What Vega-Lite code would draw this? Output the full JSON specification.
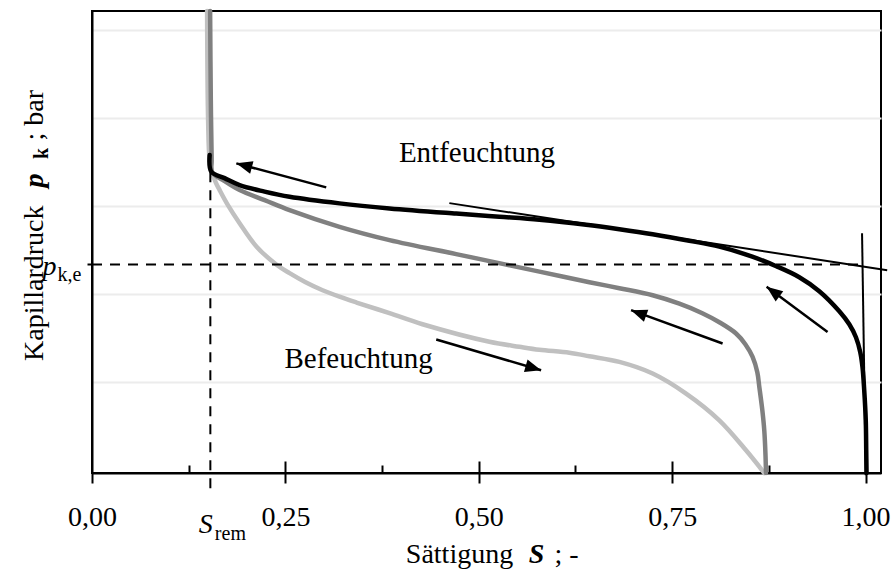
{
  "$schema": "https://vega.github.io/schema/vega-lite/v6.json",
  "width": 789,
  "height": 462,
  "autosize": "none",
  "padding": {"left": 92, "top": 11, "right": 15, "bottom": 99},
  "background": "white",
  "config": {
    "view": {"stroke": "#000000", "strokeWidth": 2},
    "font": "Liberation Serif",
    "axis": {
      "labelFont": "Liberation Serif",
      "titleFont": "Liberation Serif",
      "labelColor": "#000000",
      "titleColor": "#000000",
      "tickColor": "#000000",
      "domainColor": "#000000",
      "labelFlush": false,
      "labelOverlap": false,
      "grid": false,
      "titleFontWeight": "normal",
      "labelFontSize": 28,
      "titleFontSize": 28,
      "tickWidth": 2,
      "domainWidth": 2,
      "titlePadding": 0
    }
  },
  "datasets": {
    "curves": [
      {"kurve": "Befeuchtung", "s": 0.1488, "p": 5.217},
      {"kurve": "Befeuchtung", "s": 0.1501, "p": 3.977},
      {"kurve": "Befeuchtung", "s": 0.1521, "p": 3.522},
      {"kurve": "Befeuchtung", "s": 0.1553, "p": 3.386},
      {"kurve": "Befeuchtung", "s": 0.1598, "p": 3.272},
      {"kurve": "Befeuchtung", "s": 0.1650, "p": 3.181},
      {"kurve": "Befeuchtung", "s": 0.1753, "p": 3.016},
      {"kurve": "Befeuchtung", "s": 0.1908, "p": 2.805},
      {"kurve": "Befeuchtung", "s": 0.2128, "p": 2.538},
      {"kurve": "Befeuchtung", "s": 0.2386, "p": 2.333},
      {"kurve": "Befeuchtung", "s": 0.2554, "p": 2.237},
      {"kurve": "Befeuchtung", "s": 0.2761, "p": 2.134},
      {"kurve": "Befeuchtung", "s": 0.2981, "p": 2.043},
      {"kurve": "Befeuchtung", "s": 0.3200, "p": 1.969},
      {"kurve": "Befeuchtung", "s": 0.3420, "p": 1.903},
      {"kurve": "Befeuchtung", "s": 0.3846, "p": 1.782},
      {"kurve": "Befeuchtung", "s": 0.4273, "p": 1.656},
      {"kurve": "Befeuchtung", "s": 0.5138, "p": 1.457},
      {"kurve": "Befeuchtung", "s": 0.5526, "p": 1.400},
      {"kurve": "Befeuchtung", "s": 0.5784, "p": 1.366},
      {"kurve": "Befeuchtung", "s": 0.6171, "p": 1.332},
      {"kurve": "Befeuchtung", "s": 0.6430, "p": 1.292},
      {"kurve": "Befeuchtung", "s": 0.6818, "p": 1.228},
      {"kurve": "Befeuchtung", "s": 0.7248, "p": 1.096},
      {"kurve": "Befeuchtung", "s": 0.7680, "p": 0.868},
      {"kurve": "Befeuchtung", "s": 0.8110, "p": 0.564},
      {"kurve": "Befeuchtung", "s": 0.8455, "p": 0.223},
      {"kurve": "Befeuchtung", "s": 0.8691, "p": -0.035},

      {"kurve": "Entfeuchtung (Scanning)", "s": 0.1527, "p": 5.217},
      {"kurve": "Entfeuchtung (Scanning)", "s": 0.1536, "p": 4.204},
      {"kurve": "Entfeuchtung (Scanning)", "s": 0.1547, "p": 3.522},
      {"kurve": "Entfeuchtung (Scanning)", "s": 0.1553, "p": 3.386},
      {"kurve": "Entfeuchtung (Scanning)", "s": 0.1714, "p": 3.283},
      {"kurve": "Entfeuchtung (Scanning)", "s": 0.1908, "p": 3.181},
      {"kurve": "Entfeuchtung (Scanning)", "s": 0.2231, "p": 3.067},
      {"kurve": "Entfeuchtung (Scanning)", "s": 0.2554, "p": 2.953},
      {"kurve": "Entfeuchtung (Scanning)", "s": 0.3200, "p": 2.763},
      {"kurve": "Entfeuchtung (Scanning)", "s": 0.3846, "p": 2.612},
      {"kurve": "Entfeuchtung (Scanning)", "s": 0.4708, "p": 2.453},
      {"kurve": "Entfeuchtung (Scanning)", "s": 0.5354, "p": 2.334},
      {"kurve": "Entfeuchtung (Scanning)", "s": 0.5784, "p": 2.254},
      {"kurve": "Entfeuchtung (Scanning)", "s": 0.6430, "p": 2.134},
      {"kurve": "Entfeuchtung (Scanning)", "s": 0.6818, "p": 2.066},
      {"kurve": "Entfeuchtung (Scanning)", "s": 0.7248, "p": 1.986},
      {"kurve": "Entfeuchtung (Scanning)", "s": 0.7593, "p": 1.890},
      {"kurve": "Entfeuchtung (Scanning)", "s": 0.7890, "p": 1.782},
      {"kurve": "Entfeuchtung (Scanning)", "s": 0.8110, "p": 1.679},
      {"kurve": "Entfeuchtung (Scanning)", "s": 0.8326, "p": 1.551},
      {"kurve": "Entfeuchtung (Scanning)", "s": 0.8446, "p": 1.429},
      {"kurve": "Entfeuchtung (Scanning)", "s": 0.8540, "p": 1.284},
      {"kurve": "Entfeuchtung (Scanning)", "s": 0.8601, "p": 1.110},
      {"kurve": "Entfeuchtung (Scanning)", "s": 0.8627, "p": 0.943},
      {"kurve": "Entfeuchtung (Scanning)", "s": 0.8666, "p": 0.678},
      {"kurve": "Entfeuchtung (Scanning)", "s": 0.8691, "p": 0.450},
      {"kurve": "Entfeuchtung (Scanning)", "s": 0.8707, "p": 0.166},
      {"kurve": "Entfeuchtung (Scanning)", "s": 0.8713, "p": -0.035},

      {"kurve": "Entfeuchtung (primär)", "s": 0.1521, "p": 3.579},
      {"kurve": "Entfeuchtung (primär)", "s": 0.1543, "p": 3.389},
      {"kurve": "Entfeuchtung (primär)", "s": 0.1714, "p": 3.317},
      {"kurve": "Entfeuchtung (primär)", "s": 0.1908, "p": 3.238},
      {"kurve": "Entfeuchtung (primär)", "s": 0.2231, "p": 3.164},
      {"kurve": "Entfeuchtung (primär)", "s": 0.2554, "p": 3.105},
      {"kurve": "Entfeuchtung (primär)", "s": 0.3200, "p": 3.030},
      {"kurve": "Entfeuchtung (primär)", "s": 0.3846, "p": 2.973},
      {"kurve": "Entfeuchtung (primär)", "s": 0.4708, "p": 2.914},
      {"kurve": "Entfeuchtung (primär)", "s": 0.5267, "p": 2.879},
      {"kurve": "Entfeuchtung (primär)", "s": 0.5784, "p": 2.845},
      {"kurve": "Entfeuchtung (primär)", "s": 0.6388, "p": 2.788},
      {"kurve": "Entfeuchtung (primär)", "s": 0.6818, "p": 2.737},
      {"kurve": "Entfeuchtung (primär)", "s": 0.7248, "p": 2.680},
      {"kurve": "Entfeuchtung (primär)", "s": 0.7722, "p": 2.606},
      {"kurve": "Entfeuchtung (primär)", "s": 0.8110, "p": 2.538},
      {"kurve": "Entfeuchtung (primär)", "s": 0.8536, "p": 2.424},
      {"kurve": "Entfeuchtung (primär)", "s": 0.8846, "p": 2.316},
      {"kurve": "Entfeuchtung (primär)", "s": 0.9144, "p": 2.191},
      {"kurve": "Entfeuchtung (primär)", "s": 0.9402, "p": 2.032},
      {"kurve": "Entfeuchtung (primär)", "s": 0.9661, "p": 1.804},
      {"kurve": "Entfeuchtung (primär)", "s": 0.9790, "p": 1.656},
      {"kurve": "Entfeuchtung (primär)", "s": 0.9876, "p": 1.508},
      {"kurve": "Entfeuchtung (primär)", "s": 0.9932, "p": 1.338},
      {"kurve": "Entfeuchtung (primär)", "s": 0.9961, "p": 1.167},
      {"kurve": "Entfeuchtung (primär)", "s": 0.9983, "p": 0.906},
      {"kurve": "Entfeuchtung (primär)", "s": 1.0003, "p": 0.565},
      {"kurve": "Entfeuchtung (primär)", "s": 1.0009, "p": 0.223},
      {"kurve": "Entfeuchtung (primär)", "s": 1.0013, "p": -0.035}
    ],
    "refs": [
      {"linie": "p_k,e", "s0": 0.0, "p0": 2.336, "s1": 0.995, "p1": 2.336},
      {"linie": "S_rem", "s0": 0.153, "p0": 3.385, "s1": 0.153, "p1": -0.23}
    ],
    "lines": [
      {"linie": "Tangente", "s0": 0.462, "p0": 3.033, "s1": 1.028, "p1": 2.271},
      {"linie": "Senkrechte", "s0": 0.9955, "p0": 2.69, "s1": 1.0003, "p1": -0.06}
    ],
    "arrows": [
      {"pfeil": "Entfeuchtung links", "s0": 0.3028, "p0": 3.212, "s1": 0.1866, "p1": 3.485},
      {"pfeil": "Scanning", "s0": 0.8152, "p0": 1.437, "s1": 0.6969, "p1": 1.816},
      {"pfeil": "Entfeuchtung rechts", "s0": 0.9509, "p0": 1.569, "s1": 0.8721, "p1": 2.081},
      {"pfeil": "Befeuchtung", "s0": 0.4450, "p0": 1.482, "s1": 0.5806, "p1": 1.133}
    ],
    "labels": [
      {"text": "Entfeuchtung", "s": 0.4977, "p": 3.499},
      {"text": "Befeuchtung", "s": 0.3446, "p": 1.156}
    ]
  },
  "layer": [
    {
      "data": {"name": "curves"},
      "mark": {"type": "line", "interpolate": "catmull-rom", "strokeCap": "round", "strokeJoin": "round"},
      "encoding": {
        "x": {
          "field": "s", "type": "quantitative",
          "scale": {"domain": [0, 1.02], "nice": false, "zero": false},
          "axis": {
            "orient": "bottom",
            "values": [0, 0.25, 0.5, 0.75, 1],
            "labelExpr": "replace(format(datum.value, '.2f'), '.', ',')",
            "tickSize": 10,
            "labelBaseline": "alphabetic",
            "labelPadding": 42,
            "domain": true,
            "title": "Sättigung",
            "titleX": 367, "titleY": 89,
            "titleAlign": "center", "titleBaseline": "alphabetic"
          }
        },
        "y": {
          "field": "p", "type": "quantitative",
          "scale": {"domain": [-0.035, 5.217], "nice": false, "zero": false},
          "axis": {
            "orient": "left",
            "values": [1, 2, 3, 4, 5],
            "grid": true, "gridColor": "#ececec", "gridWidth": 2,
            "ticks": false, "labels": false, "domain": true,
            "title": "Kapillardruck",
            "titleAngle": 270, "titleX": -50, "titleY": 194,
            "titleAlign": "right", "titleBaseline": "alphabetic"
          }
        },
        "color": {
          "field": "kurve", "type": "nominal",
          "scale": {"domain": ["Befeuchtung", "Entfeuchtung (Scanning)", "Entfeuchtung (primär)"], "range": ["#c0c0c0", "#808080", "#000000"]},
          "legend": null
        },
        "strokeWidth": {
          "field": "kurve", "type": "nominal",
          "scale": {"domain": ["Befeuchtung", "Entfeuchtung (Scanning)", "Entfeuchtung (primär)"], "range": [4.5, 4.5, 5]},
          "legend": null
        }
      }
    },
    {
      "data": {"name": "refs"},
      "mark": {"type": "rule", "strokeDash": [10, 8], "strokeWidth": 2, "color": "#000000"},
      "encoding": {
        "x": {
          "field": "s0", "type": "quantitative",
          "scale": {"domain": [0, 1.02], "nice": false, "zero": false},
          "axis": {
            "orient": "bottom",
            "values": [0.25, 0.5, 0.75, 1],
            "tickSize": -12, "labels": false, "domain": false,
            "title": "S", "titleFontStyle": "italic", "titleFontWeight": "bold",
            "titleX": 444, "titleY": 89,
            "titleAlign": "center", "titleBaseline": "alphabetic"
          }
        },
        "x2": {"field": "s1"},
        "y": {
          "field": "p0", "type": "quantitative",
          "scale": {"domain": [-0.035, 5.217], "nice": false, "zero": false},
          "axis": {
            "orient": "left",
            "values": [2.336],
            "tickSize": 5, "domain": false,
            "labelExpr": "'p'", "labelFontStyle": "italic",
            "labelAlign": "right", "labelBaseline": "alphabetic",
            "labelPadding": 31, "labelOffset": 10,
            "title": "p", "titleFontStyle": "italic", "titleFontWeight": "bold",
            "titleAngle": 270, "titleX": -50, "titleY": 169,
            "titleAlign": "center", "titleBaseline": "alphabetic"
          }
        },
        "y2": {"field": "p1"}
      }
    },
    {
      "data": {"name": "lines"},
      "mark": {"type": "rule", "strokeWidth": 2, "color": "#000000"},
      "encoding": {
        "x": {
          "field": "s0", "type": "quantitative",
          "scale": {"domain": [0, 1.02], "nice": false, "zero": false},
          "axis": {
            "orient": "bottom",
            "values": [0.125, 0.375, 0.625, 0.875],
            "tickSize": -8, "labels": false, "domain": false,
            "title": "; -",
            "titleX": 474, "titleY": 89,
            "titleAlign": "center", "titleBaseline": "alphabetic"
          }
        },
        "x2": {"field": "s1"},
        "y": {
          "field": "p0", "type": "quantitative",
          "scale": {"domain": [-0.035, 5.217], "nice": false, "zero": false},
          "axis": {
            "orient": "left",
            "values": [2.336],
            "ticks": false, "tickSize": 0, "domain": false,
            "labelExpr": "'k,e'", "labelFontSize": 20,
            "labelAlign": "left", "labelBaseline": "alphabetic",
            "labelPadding": 35, "labelOffset": 16,
            "title": "k", "titleFontWeight": "bold", "titleFontSize": 20,
            "titleAngle": 270, "titleX": -45, "titleY": 142,
            "titleAlign": "center", "titleBaseline": "alphabetic"
          }
        },
        "y2": {"field": "p1"}
      }
    },
    {
      "data": {"name": "arrows"},
      "mark": {"type": "rule", "strokeWidth": 2.5, "color": "#000000"},
      "encoding": {
        "x": {
          "field": "s0", "type": "quantitative",
          "scale": {"domain": [0, 1.02], "nice": false, "zero": false},
          "axis": {
            "orient": "bottom",
            "values": [0.153],
            "ticks": false, "tickSize": 0, "domain": false,
            "labelExpr": "'S'", "labelFontStyle": "italic",
            "labelAlign": "center", "labelBaseline": "alphabetic",
            "labelPadding": 59, "labelOffset": -5,
            "title": null
          }
        },
        "x2": {"field": "s1"},
        "y": {
          "field": "p0", "type": "quantitative",
          "scale": {"domain": [-0.035, 5.217], "nice": false, "zero": false},
          "axis": {
            "orient": "left",
            "ticks": false, "labels": false, "domain": false,
            "title": "; bar",
            "titleAngle": 270, "titleX": -50, "titleY": 129,
            "titleAlign": "left", "titleBaseline": "alphabetic"
          }
        },
        "y2": {"field": "p1"}
      }
    },
    {
      "data": {"name": "arrows"},
      "mark": {
        "type": "point",
        "shape": "M0,0L0.4,1L-0.4,1Z",
        "size": 1024,
        "filled": true,
        "opacity": 1,
        "color": "#000000",
        "strokeWidth": 0,
        "angle": {"expr": "atan2(scale('x', datum.s1) - scale('x', datum.s0), scale('y', datum.p0) - scale('y', datum.p1)) * 180 / PI"}
      },
      "encoding": {
        "x": {
          "field": "s1", "type": "quantitative",
          "scale": {"domain": [0, 1.02], "nice": false, "zero": false},
          "axis": {
            "orient": "bottom",
            "values": [0.153],
            "ticks": false, "tickSize": 0, "domain": false,
            "labelExpr": "'rem'", "labelFontSize": 20,
            "labelAlign": "left", "labelBaseline": "alphabetic",
            "labelPadding": 66, "labelOffset": 4,
            "title": null
          }
        },
        "y": {
          "field": "p1", "type": "quantitative",
          "scale": {"domain": [-0.035, 5.217], "nice": false, "zero": false},
          "axis": null
        }
      }
    },
    {
      "data": {"name": "labels"},
      "mark": {"type": "text", "font": "Liberation Serif", "fontSize": 29, "align": "center", "baseline": "alphabetic", "color": "#000000"},
      "encoding": {
        "x": {"field": "s", "type": "quantitative", "scale": {"domain": [0, 1.02], "nice": false, "zero": false}, "axis": null},
        "y": {"field": "p", "type": "quantitative", "scale": {"domain": [-0.035, 5.217], "nice": false, "zero": false}, "axis": null},
        "text": {"field": "text"}
      }
    }
  ],
  "resolve": {"axis": {"x": "independent", "y": "independent"}}
}
